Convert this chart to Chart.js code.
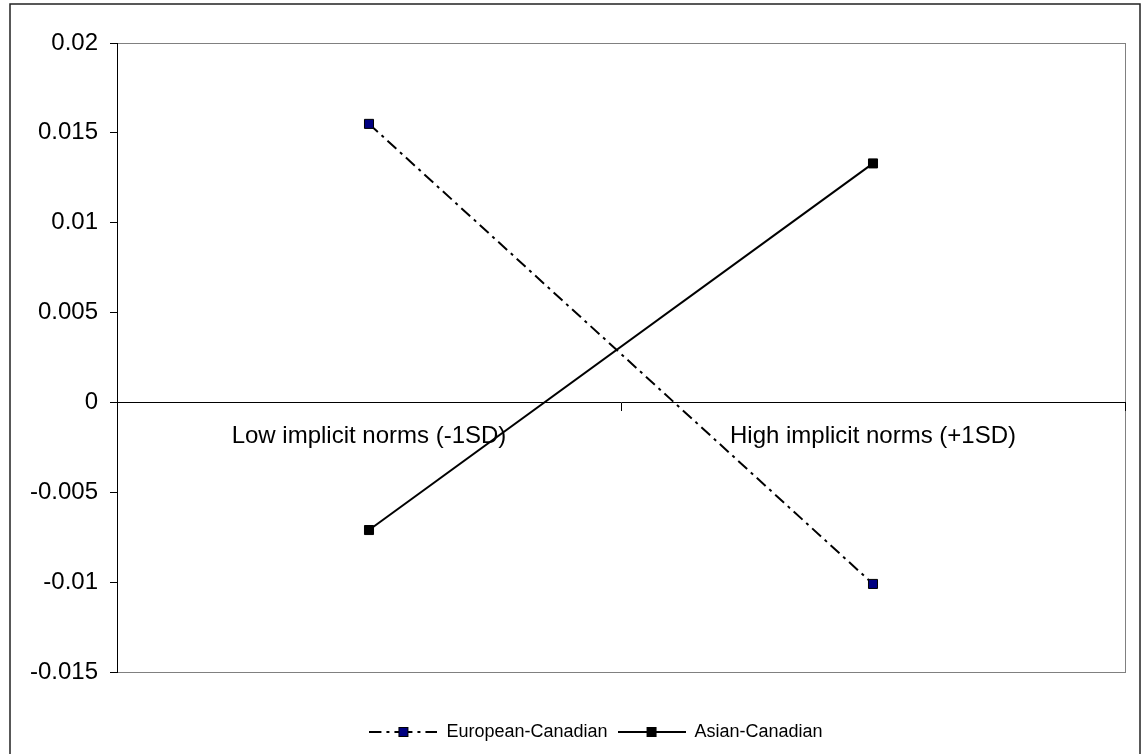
<!DOCTYPE html>
<html lang="en">
<head>
  <meta charset="UTF-8">
  <title>Implicit norms</title>
  <script src="https://cdn.jsdelivr.net/npm/chart.js"></script>
  <style>
    html, body { margin: 0; padding: 0; background: #fff; }
    #wrap { width: 1142px; height: 754px; }
  </style>
</head>
<body>
  <div id="wrap"><canvas id="normsChart"></canvas></div>

  <script>
    // data
    var categories = ['Low implicit norms (-1SD)', 'High implicit norms (+1SD)'];
    var europeanCanadian = [0.0155, -0.0101];
    var asianCanadian = [-0.0071, 0.0133];
    var yTickValues = [-0.015, -0.01, -0.005, 0, 0.005, 0.01, 0.015, 0.02];
    var seriesNames = ['European-Canadian', 'Asian-Canadian'];

    var fontFamily = '"Liberation Sans", Arial, sans-serif';

    // legend icons: line with square marker in the middle (Excel style)
    function makeIcon(dashed, fill) {
      var c = document.createElement('canvas');
      c.width = 68; c.height = 14;
      var g = c.getContext('2d');
      g.strokeStyle = '#000';
      g.lineWidth = 2;
      if (dashed) {
        g.setLineDash([12, 5, 3, 5]);
        g.beginPath(); g.moveTo(0, 7); g.lineTo(30, 7); g.stroke();
        g.beginPath(); g.moveTo(68, 7); g.lineTo(38, 7); g.stroke();
      } else {
        g.beginPath(); g.moveTo(0, 7); g.lineTo(68, 7); g.stroke();
      }
      g.setLineDash([]);
      g.fillStyle = fill;
      g.fillRect(29.5, 2.5, 9, 9);
      g.lineWidth = 1;
      g.strokeRect(29.5, 2.5, 9, 9);
      return c;
    }
    var legendIcons = [makeIcon(true, '#000080'), makeIcon(false, '#000')];

    // white page, outer frame, gray plot frame; legend nudged to sit like the original
    var framePlugin = {
      id: 'frame',
      afterLayout: function(chart) {
        chart.legend.left = 67;
      },
      beforeDraw: function(chart) {
        var ctx = chart.ctx, a = chart.chartArea;
        ctx.save();
        ctx.fillStyle = '#fff';
        ctx.fillRect(0, 0, chart.width, chart.height);
        ctx.strokeStyle = '#222';
        ctx.lineWidth = 1.5;
        ctx.strokeRect(10, 4, 1130, 760);
        ctx.strokeStyle = '#808080';
        ctx.lineWidth = 1;
        ctx.strokeRect(Math.round(a.left) + 0.5, Math.round(a.top) + 0.5,
          Math.round(a.right - a.left), Math.round(a.bottom - a.top));
        ctx.restore();
      }
    };

    var ctx = document.getElementById('normsChart').getContext('2d');
    var normsChart = new Chart(ctx, {
      type: 'line',
      data: {
        labels: categories,
        datasets: [{
          label: seriesNames[0],
          data: europeanCanadian,
          borderColor: '#000',
          borderWidth: 2,
          borderDash: [12, 5, 3, 5],
          pointStyle: 'rect',
          pointRadius: 6.4,
          pointBorderWidth: 1,
          pointBorderColor: '#000',
          pointBackgroundColor: '#000080',
          fill: false,
          tension: 0
        }, {
          label: seriesNames[1],
          data: asianCanadian,
          borderColor: '#000',
          borderWidth: 2,
          pointStyle: 'rect',
          pointRadius: 6.4,
          pointBorderWidth: 1,
          pointBorderColor: '#000',
          pointBackgroundColor: '#000',
          fill: false,
          tension: 0
        }]
      },
      options: {
        responsive: true,
        maintainAspectRatio: false,
        animation: false,
        layout: { padding: { left: 0, right: 17, top: 43, bottom: 3 } },
        scales: {
          x: {
            position: { y: 0 },
            offset: true,
            grid: { offset: true, drawOnChartArea: false, tickLength: 8, color: '#000' },
            border: { color: '#000', width: 1 },
            ticks: {
              color: '#000',
              font: { size: 24, family: fontFamily },
              padding: 12,
              maxRotation: 0,
              autoSkip: false
            }
          },
          gap: {
            type: 'linear',
            axis: 'x',
            position: 'bottom',
            ticks: { display: false },
            grid: { display: false },
            border: { display: false },
            afterFit: function(s) { s.height = 41; }
          },
          y: {
            min: -0.015,
            max: 0.02,
            grid: { drawOnChartArea: false, tickLength: 7, color: '#000' },
            border: { color: '#000', width: 1 },
            afterBuildTicks: function(axis) {
              axis.ticks = yTickValues.map(function(v) { return { value: v }; });
            },
            afterFit: function(s) { s.width = 117; },
            ticks: {
              color: '#000',
              font: { size: 24, family: fontFamily },
              padding: 12,
              callback: function(v) { return String(+Number(v).toFixed(3)); }
            }
          }
        },
        plugins: {
          tooltip: { enabled: false },
          legend: {
            position: 'bottom',
            labels: {
              usePointStyle: true,
              pointStyleWidth: 68,
              padding: 10,
              color: '#000',
              font: { size: 18, family: fontFamily },
              generateLabels: function(chart) {
                var items = Chart.defaults.plugins.legend.labels.generateLabels(chart);
                items.forEach(function(it, i) { it.pointStyle = legendIcons[i]; });
                return items;
              }
            }
          }
        }
      },
      plugins: [framePlugin]
    });
  </script>
</body>
</html>
